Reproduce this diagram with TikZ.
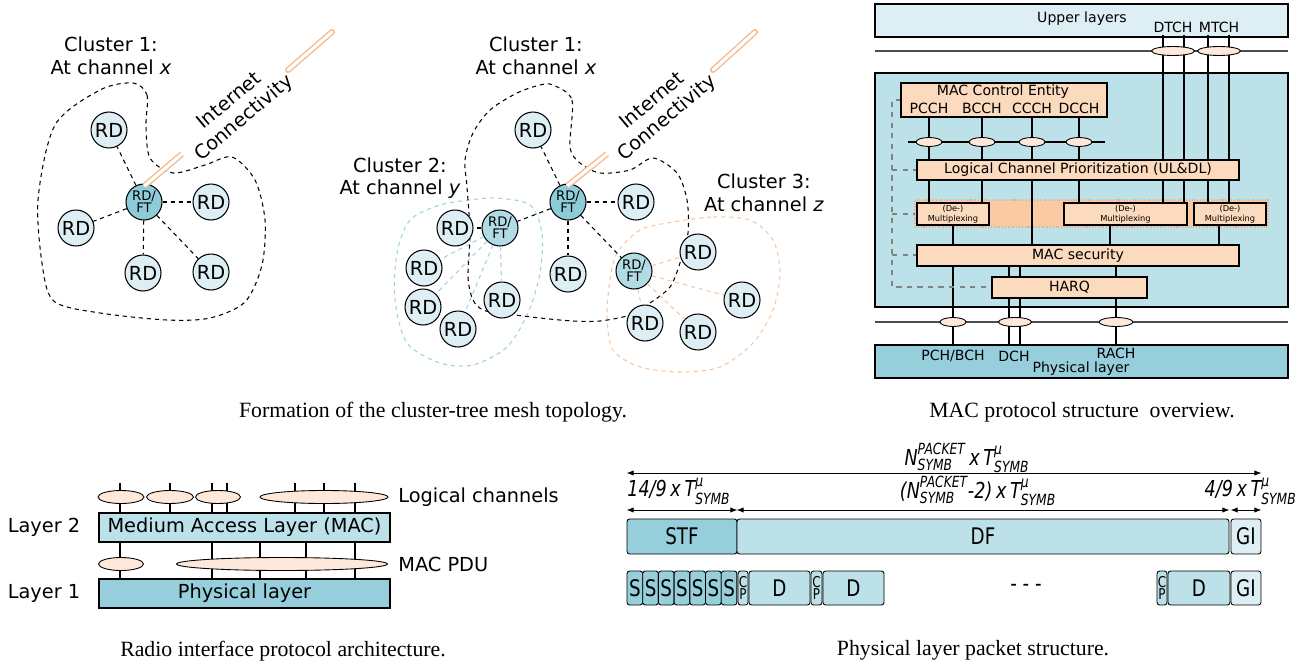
\documentclass[tikz,border=0pt]{standalone}
\usepackage{fontspec}
\usepackage{amsmath}
\setmainfont{DejaVu Sans}
\newfontfamily\capfont{Liberation Serif}
\newfontfamily\condfont[FakeStretch=0.8]{DejaVu Sans}
\usetikzlibrary{arrows.meta, calc, fit, shapes.geometric}

\definecolor{rdblue}{RGB}{221, 239, 244}
\definecolor{ftblue}{RGB}{143, 204, 217}
\definecolor{subblue}{RGB}{178, 220, 229}
\definecolor{macblue}{RGB}{188, 225, 233}
\definecolor{phyblue}{RGB}{150, 207, 219}
\definecolor{peach}{RGB}{252, 218, 190}
\definecolor{peachdark}{RGB}{249, 202, 163}
\definecolor{ovalpeach}{RGB}{253, 232, 218}
\definecolor{netorange}{RGB}{245, 186, 140}
\definecolor{ctwoblue}{RGB}{160, 210, 224}
\definecolor{cthreeorange}{RGB}{247, 198, 160}
\definecolor{ctrlgray}{RGB}{130, 130, 130}

\newcommand{\Tsym}{$\textit{T}^{\text{\itshape μ}}_{\text{\itshape SYMB}}$}
\newcommand{\Nsym}{$\textit{N}^{\text{\itshape PACKET}}_{\text{\itshape SYMB}}$}

\begin{document}
\begin{tikzpicture}[x=0.02cm, y=-0.02cm,
  txt/.style={font=\fontsize{11}{12.8}\selectfont, align=center, inner sep=0pt},
  mactxt/.style={font=\fontsize{8}{9}\selectfont, inner sep=0pt},
  muxtxt/.style={font=\fontsize{4.7}{5.4}\selectfont, align=center, inner sep=0pt},
  pkttxt/.style={font=\condfont\fontsize{13}{13}\selectfont, inner sep=0pt},
  cptxt/.style={font=\condfont\fontsize{8.5}{6.8}\selectfont, align=center, inner sep=0pt},
  captxt/.style={font=\capfont\fontsize{12.4}{14}\selectfont, inner sep=0pt},
  rd/.style={circle, draw, line width=0.6pt, fill=rdblue, minimum size=0.72cm, inner sep=0pt, font=\fontsize{11}{11}\selectfont},
  ft/.style={rd, fill=ftblue, font=\fontsize{7.5}{7}\selectfont, align=center},
  subft/.style={ft, fill=subblue},
  link/.style={dash pattern=on 2.4pt off 2.2pt, line width=0.6pt},
  blob/.style={dash pattern=on 2.4pt off 2.2pt, line width=0.6pt},
  inet/.style={draw=netorange, double=white, double distance=1.8pt, line width=0.8pt},
  pbox/.style={draw, line width=0.6pt, inner sep=0pt},
  oval/.style={ellipse, draw, line width=0.5pt, fill=ovalpeach, inner sep=0pt, minimum height=0.18cm},
  chan/.style={line width=0.75pt},
  hline/.style={draw=black!70, line width=0.6pt},
  ctrl/.style={dashed, draw=ctrlgray, line width=0.8pt},
  pkt/.style={draw, line width=0.5pt, rounded corners=1.5pt, inner sep=0pt},
  dim/.style={{Latex[length=4pt,width=3pt]}-{Latex[length=4pt,width=3pt]}, line width=0.5pt},
  ital/.style={font=\condfont\fontsize{12.5}{12.5}\selectfont\itshape, inner sep=0pt}
]
  \useasboundingbox (0,0) rectangle (1307,669);

  % Single cluster
  \draw[blob] plot[smooth cycle] coordinates {(133,83) (147,95) (146,125) (150,158) (173,173) (205,165) (232,157) (255,180) (265,220) (262,265) (245,302) (210,318) (167,320) (100,313) (55,302) (43,270) (38,200) (55,125) (100,90)};
  \node[txt] (clA) at (111,56) {Cluster 1:\\At channel \textit{x}};
  \node[ft] (ftA) at (144,202) {RD/\\FT};
  \foreach \n/\x/\y in {a1/109/130, a2/211/202, a3/76/228, a4/143/273, a5/211/272} {
    \node[rd] (\n) at (\x,\y) {RD};
    \draw[link] (ftA) -- (\n);
  }
  \coordinate (netA1) at (182,154);
  \coordinate (netA2) at (288,70);
  \coordinate (netA3) at (332,32);
  \draw[inet, line cap=butt, shorten <=-2pt] (ftA.81) -- (netA1);
  \draw[inet, line cap=round] (netA2) -- (netA3);
  \node[txt, rotate=40] (netA) at (237,110) {Internet\\Connectivity};

  % Cluster tree
  \draw[blob, draw=ctwoblue] plot[smooth cycle] coordinates {(497,198) (530,205) (542,233) (540,273) (528,313) (507,347) (473,365) (440,363) (407,343) (395,300) (397,253) (410,220) (440,205) (470,200)};
  \draw[blob, draw=cthreeorange] plot[smooth cycle] coordinates {(673,222) (713,217) (750,220) (773,240) (780,273) (773,310) (753,343) (720,367) (680,372) (640,367) (613,350) (607,317) (610,280) (617,253) (640,230)};
  \draw[blob] plot[smooth cycle] coordinates {(553,85) (572,100) (570,147) (580,163) (600,173) (630,170) (653,158) (677,173) (687,200) (688,233) (680,263) (670,287) (650,303) (630,315) (600,321) (573,321) (540,318) (500,313) (483,310) (473,300) (468,277) (470,233) (467,187) (465,160) (473,133) (490,110) (517,93) (540,85)};
  \node[txt] (clB1) at (536,56) {Cluster 1:\\At channel \textit{x}};
  \node[txt] (clB2) at (400,178) {Cluster 2:\\At channel \textit{y}};
  \node[txt] (clB3) at (764,193) {Cluster 3:\\At channel \textit{z}};

  \node[ft] (ftB) at (568,202) {RD/\\FT};
  \node[subft] (ftC) at (500,228) {RD/\\FT};
  \node[subft] (ftD) at (634,271) {RD/\\FT};
  \draw[link] (ftB) -- (ftC);
  \draw[link] (ftB) -- (ftD);
  \foreach \n/\x/\y in {b1/533/130, b2/636/202, b3/568/274} {
    \node[rd] (\n) at (\x,\y) {RD};
    \draw[link] (ftB) -- (\n);
  }
  \node[rd] (c1) at (455,228) {RD};
  \draw[link] (ftC) -- (c1);
  \foreach \n/\x/\y in {c2/424/268, c3/423/307, c4/458/329, c5/502/300} {
    \node[rd] (\n) at (\x,\y) {RD};
    \draw[link, draw=ctwoblue] (ftC) -- (\n);
  }
  \foreach \n/\x/\y in {d1/698/252, d2/742/300, d3/698/332, d4/645/323} {
    \node[rd] (\n) at (\x,\y) {RD};
    \draw[link, draw=cthreeorange] (ftD) -- (\n);
  }
  \coordinate (netB1) at (607,154);
  \coordinate (netB2) at (713,70);
  \coordinate (netB3) at (755,32);
  \draw[inet, line cap=butt, shorten <=-2pt] (ftB.84) -- (netB1);
  \draw[inet, line cap=round] (netB2) -- (netB3);
  \node[txt, rotate=40] (netB) at (660,110) {Internet\\Connectivity};

  \node[captxt] (capA) at (433,412) {Formation of the cluster-tree mesh topology.};

  % MAC protocol structure
  \node[pbox, fill=rdblue, fit={(875,4) (1288,37)}] (upper) {};
  \node[mactxt] (uptxt) at (1082,19) {Upper layers};
  \node[mactxt] (dtch) at (1173,27) {DTCH};
  \node[mactxt] (mtch) at (1219,27) {MTCH};
  \draw[hline] (875,51) -- (1288,51);
  \node[pbox, fill=macblue, fit={(875,73) (1288,307)}] (mac) {};
  \node[pbox, fill=peachdark, draw=cthreeorange!70!gray, densely dotted, fit={(915,200) (1268,227)}] (muxgrp) {};
  \foreach \x in {1163,1184,1208,1229} \draw[chan] (\x,35) -- (\x,203);
  \foreach \x in {929,982,1079} \draw[chan] (\x,117) -- (\x,203);
  \draw[chan] (1032,117) -- (1032,245);
  \foreach \x in {953,1110,1219} \draw[chan] (\x,225) -- (\x,245);
  \foreach \x in {953,1009,1020,1116} \draw[chan] (\x,266) -- (\x,345);
  \draw[chan] (908,142) -- (1105,142);
  \draw[hline] (875,322) -- (1288,322);
  \draw[ctrl] (901,100) -- (892,100) -- (892,287) -- (992,287);
  \foreach \y/\xe in {170/917, 214/915, 255/917} \draw[ctrl] (892,\y) -- (\xe,\y);

  \node[pbox, fill=peach, fit={(901,83) (1107,117)}] (mce) {};
  \node[mactxt] (mcetxt) at (1003,92) {MAC Control Entity};
  \foreach \n/\x in {PCCH/929, BCCH/982, CCCH/1032, DCCH/1079} {
    \node[mactxt] (\n) at (\x,108) {\n};
    \node[oval, minimum width=0.52cm] (o\n) at (\x,142) {};
  }
  \node[pbox, fill=peach, fit={(917,160) (1239,180)}] (lcp) {};
  \node[mactxt] (lcptxt) at (lcp) {Logical Channel Prioritization (UL\&DL)};
  \foreach \i/\xa/\xb in {1/917/989, 2/1064/1187, 3/1194/1266} {
    \node[pbox, fill=peach, fit={(\xa,203) (\xb,225)}] (mux\i) {};
    \node[muxtxt] (muxtxt\i) at (mux\i) {(De-)\\Multiplexing};
  }
  \node[pbox, fill=peach, fit={(917,245) (1239,266)}] (sec) {};
  \node[mactxt] (sectxt) at (sec) {MAC security};
  \node[pbox, fill=peach, fit={(992,277) (1147,298)}] (harq) {};
  \node[mactxt] (harqtxt) at (harq) {HARQ};
  \node[oval, minimum width=0.86cm] (oDTCH) at (1173,51) {};
  \node[oval, minimum width=0.86cm] (oMTCH) at (1219,51) {};
  \node[oval, minimum width=0.52cm] (oPCH) at (953,322) {};
  \node[oval, minimum width=0.66cm] (oDCH) at (1015,322) {};
  \node[oval, minimum width=0.68cm] (oRACH) at (1116,322) {};

  \node[pbox, fill=phyblue, fit={(875,345) (1288,378)}] (phy) {};
  \node[mactxt] (pch) at (953,356) {PCH/BCH};
  \node[mactxt] (dch) at (1014,356) {DCH};
  \node[mactxt] (rach) at (1116,353) {RACH};
  \node[mactxt] (phytxt) at (1081,369) {Physical layer};

  \node[captxt] (capB) at (1082,412) {MAC protocol structure \ overview.};

  % Radio interface protocol architecture
  \foreach \x in {120,170,212,227,295,324,355} \draw[chan] (\x,483) -- (\x,513);
  \foreach \x in {120,212,260,306,355} \draw[chan] (\x,542) -- (\x,579);
  \node[pbox, fill=macblue, fit={(99,513) (390,542)}] (l2) {};
  \node[txt] (l2txt) at (l2) {Medium Access Layer (MAC)};
  \node[pbox, fill=phyblue, fit={(99,579) (390,608)}] (l1) {};
  \node[txt] (l1txt) at (l1) {Physical layer};
  \node[oval, minimum width=0.92cm, minimum height=0.26cm] (lc1) at (121,497) {};
  \node[oval, minimum width=0.94cm, minimum height=0.26cm] (lc2) at (170,497) {};
  \node[oval, minimum width=0.90cm, minimum height=0.26cm] (lc3) at (218,497) {};
  \node[oval, minimum width=2.56cm, minimum height=0.26cm] (lc4) at (324,497) {};
  \node[oval, minimum width=0.90cm, minimum height=0.26cm] (pdu1) at (121,564) {};
  \node[oval, minimum width=4.22cm, minimum height=0.26cm] (pdu2) at (282,564) {};
  \node[txt, anchor=west] (lctxt) at (398,497) {Logical channels};
  \node[txt, anchor=west] (pdutxt) at (398,564) {MAC PDU};
  \node[txt] (lay2) at (44,527) {Layer 2};
  \node[txt] (lay1) at (44,593) {Layer 1};

  \node[captxt] (capC) at (283,651) {Radio interface protocol architecture.};

  % Physical layer packet structure
  \node[pkt, fill=phyblue, fit={(627,519) (737,554)}] (stf) {};
  \node[pkttxt] (stftxt) at (stf) {STF};
  \node[pkt, fill=macblue, fit={(737,519) (1229,554)}] (df) {};
  \node[pkttxt] (dftxt) at (df) {DF};
  \node[pkt, fill=rdblue, fit={(1231,519) (1261,554)}] (gi) {};
  \node[pkttxt] (gitxt) at (gi) {GI};
  \foreach \i in {0,...,6} {
    \node[pkt, fill=phyblue, fit={({627+15.7*\i},571) ({627+15.7*(\i+1)},605)}] (s\i) {};
    \node[pkttxt] (stxt\i) at (s\i) {S};
  }
  \foreach \n/\xa/\xb in {1/738/748, 2/811/822, 3/1157/1167} {
    \node[pkt, fill=macblue, fit={(\xa,571) (\xb,605)}] (cp\n) {};
    \node[cptxt] (cptxt\n) at (cp\n) {C\\P};
  }
  \foreach \n/\xa/\xb in {1/749/810, 2/823/884, 3/1168/1230} {
    \node[pkt, fill=macblue, fit={(\xa,571) (\xb,605)}] (d\n) {};
    \node[pkttxt] (dtxt\n) at (d\n) {D};
  }
  \node[pkttxt] (dots) at (1026,588) {- - -};
  \node[pkt, fill=rdblue, fit={(1231,571) (1261,605)}] (gi2) {};
  \node[pkttxt] (gitxt2) at (gi2) {GI};

  \draw[dim] (stf.north west |- 0,473) -- (gi.north east |- 0,473);
  \draw[dim] (stf.north west |- 0,510) -- (stf.north east |- 0,510);
  \draw[dim] (df.north west |- 0,510) -- (df.north east |- 0,510);
  \draw[dim] (gi.north west |- 0,510) -- (gi.north east |- 0,510);
  \node[ital] (tot) at (967,458) {\Nsym\,x\,\Tsym};
  \node[ital, anchor=west] (lstf) at (627,491) {14/9\,x\,\Tsym};
  \node[ital] (ldf) at (978,491) {(\Nsym-2)\,x\,\Tsym};
  \node[ital, anchor=east] (lgi) at (1297,491) {4/9\,x\,\Tsym};

  \node[captxt] (capD) at (973,650) {Physical layer packet structure.};
\end{tikzpicture}
\end{document}
